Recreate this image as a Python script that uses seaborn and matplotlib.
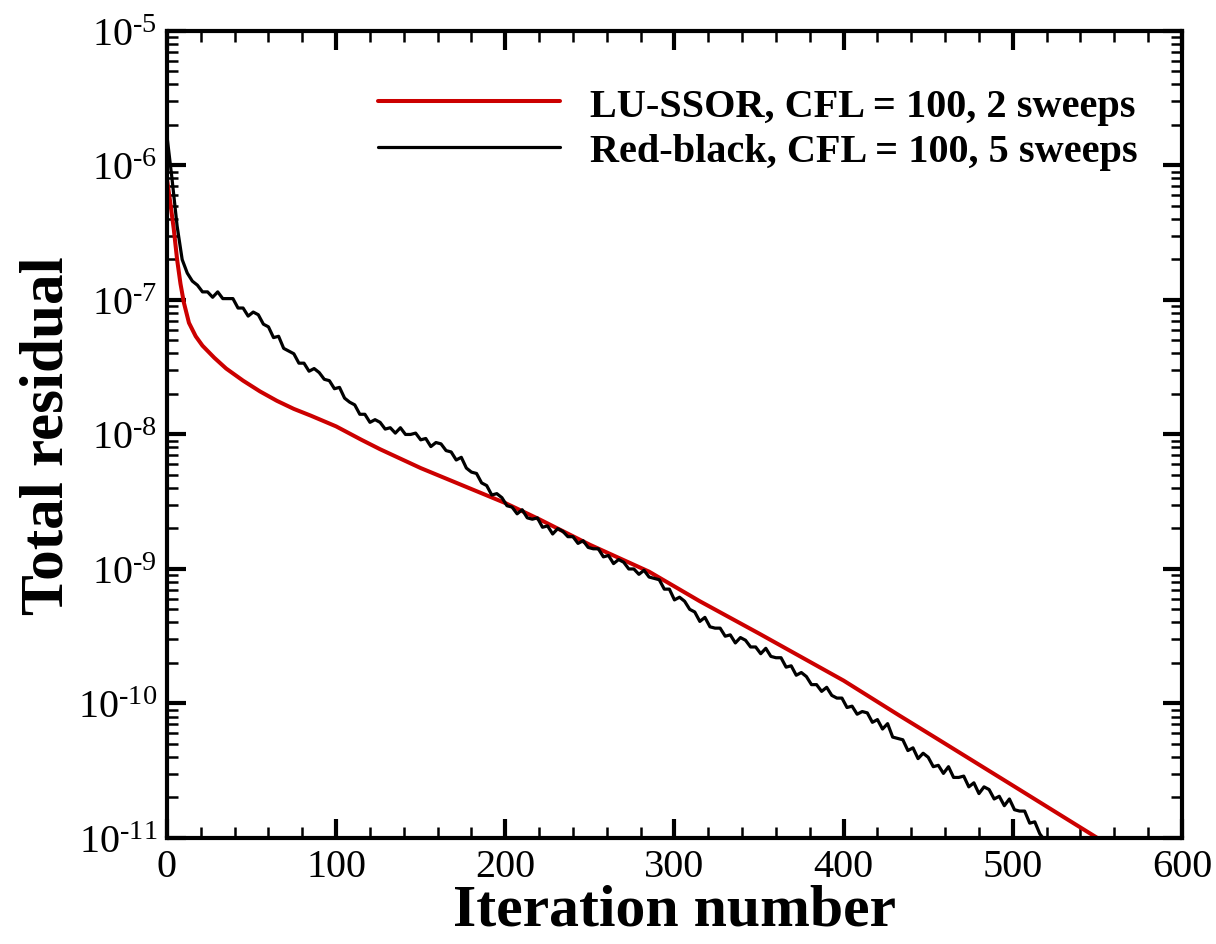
import numpy as np
import pandas as pd
import matplotlib
matplotlib.use("Agg")
import matplotlib.pyplot as plt
import seaborn as sns
from matplotlib.ticker import MultipleLocator, FixedLocator, NullFormatter, FuncFormatter

# LU-SSOR, CFL = 100, 2 sweeps  (log10 of total residual)
lu_iter = [0, 2, 4, 6, 8, 10, 13, 17, 21, 28, 35, 45, 55, 65, 75, 85, 100, 115,
           126, 150, 175, 200, 220, 250, 285, 315, 350, 400, 433, 455, 500, 550]
lu_log10 = [-6.10, -6.28, -6.47, -6.70, -6.88, -7.02, -7.17, -7.27, -7.34, -7.43,
            -7.51, -7.60, -7.68, -7.75, -7.81, -7.86, -7.94, -8.04, -8.11, -8.25,
            -8.38, -8.51, -8.63, -8.82, -9.02, -9.24, -9.48, -9.83, -10.09, -10.26,
            -10.61, -11.00]

# Red-black, CFL = 100, 5 sweeps, every 3rd iteration (log10 of total residual)
rb_iter = list(range(0, 520, 3))
rb_log10 = [
    -5.78, -6.10, -6.45, -6.70, -6.80, -6.86, -6.89, -6.94, -6.94, -6.98,
    -6.94, -6.99, -6.99, -6.99, -7.06, -7.06, -7.12, -7.09, -7.11, -7.18,
    -7.20, -7.28, -7.27, -7.36, -7.38, -7.40, -7.47, -7.47, -7.53, -7.51,
    -7.54, -7.59, -7.60, -7.66, -7.65, -7.73, -7.76, -7.78, -7.85, -7.85,
    -7.91, -7.89, -7.91, -7.96, -7.95, -7.99, -7.95, -8.00, -8.00, -7.99,
    -8.04, -8.03, -8.09, -8.06, -8.07, -8.12, -8.13, -8.19, -8.17, -8.25,
    -8.28, -8.29, -8.36, -8.38, -8.45, -8.44, -8.47, -8.53, -8.54, -8.59,
    -8.56, -8.62, -8.63, -8.62, -8.69, -8.68, -8.74, -8.70, -8.72, -8.76,
    -8.76, -8.81, -8.79, -8.84, -8.85, -8.85, -8.91, -8.90, -8.96, -8.93,
    -8.95, -9.00, -9.00, -9.04, -9.01, -9.06, -9.07, -9.08, -9.15, -9.15,
    -9.23, -9.21, -9.24, -9.30, -9.32, -9.39, -9.36, -9.43, -9.44, -9.44,
    -9.50, -9.49, -9.55, -9.51, -9.53, -9.58, -9.58, -9.63, -9.59, -9.65,
    -9.66, -9.66, -9.73, -9.72, -9.79, -9.77, -9.80, -9.86, -9.86, -9.91,
    -9.88, -9.94, -9.96, -9.96, -10.03, -10.02, -10.08, -10.06, -10.07, -10.14,
    -10.12, -10.19, -10.15, -10.25, -10.26, -10.27, -10.35, -10.33, -10.41, -10.37,
    -10.40, -10.47, -10.46, -10.52, -10.47, -10.55, -10.55, -10.54, -10.62, -10.59,
    -10.67, -10.62, -10.64, -10.71, -10.69, -10.76, -10.71, -10.79, -10.80, -10.80,
    -10.89, -10.88, -10.97, -11.02,
]

labels = ["LU-SSOR, CFL = 100, 2 sweeps", "Red-black, CFL = 100, 5 sweeps"]
y_decades = [-11, -10, -9, -8, -7, -6, -5]

lu = pd.DataFrame({"iteration": lu_iter, "residual": 10.0 ** np.array(lu_log10)})
rb = pd.DataFrame({"iteration": rb_iter, "residual": 10.0 ** np.array(rb_log10)})

sns.set_style("ticks")
plt.rcParams["font.family"] = ["Liberation Serif", "DejaVu Serif"]
plt.rcParams["mathtext.fontset"] = "custom"
plt.rcParams["mathtext.rm"] = "Liberation Serif"
plt.rcParams["mathtext.it"] = "Liberation Serif:italic"
plt.rcParams["mathtext.bf"] = "Liberation Serif:bold"
for key in ["text.color", "axes.labelcolor", "axes.edgecolor", "xtick.color", "ytick.color"]:
    plt.rcParams[key] = "black"

fig = plt.figure(figsize=(12.16, 9.45), dpi=100)
ax = fig.add_axes([0.1373, 0.1122, 0.8347, 0.8540])

sns.lineplot(data=lu, x="iteration", y="residual", ax=ax, color="#cc0000",
             lw=2.9, label=labels[0], estimator=None)
sns.lineplot(data=rb, x="iteration", y="residual", ax=ax, color="black",
             lw=2.3, label=labels[1], estimator=None)

ax.set_yscale("log")
ax.set_xlim(0, 600)
ax.set_ylim(1e-11, 1e-5)
ax.xaxis.set_major_locator(MultipleLocator(100))
ax.xaxis.set_minor_locator(MultipleLocator(20))
ax.yaxis.set_major_locator(FixedLocator([10.0 ** d for d in y_decades]))
ax.yaxis.set_minor_locator(FixedLocator(
    [m * 10.0 ** d for d in y_decades[:-1] for m in range(2, 10)]))
ax.yaxis.set_minor_formatter(NullFormatter())
ax.yaxis.set_major_formatter(FuncFormatter(
    lambda v, p: r"$\mathdefault{10^{\text{-}%d}}$" % round(-np.log10(v))))

for s in ax.spines.values():
    s.set_linewidth(3)
ax.tick_params(which="both", direction="in", top=True, right=True,
               labelsize=29, pad=7)
ax.tick_params(which="major", length=14, width=3)
ax.tick_params(which="minor", length=8, width=1.8)

ax.set_xlabel("Iteration number", fontsize=43, fontweight="bold", labelpad=-1)
ax.set_ylabel("Total residual", fontsize=44, fontweight="bold", labelpad=2)

ax.legend(loc="upper right", frameon=False, handlelength=4.5, handletextpad=0.75,
          labelspacing=0.2, prop={"size": 29, "weight": "bold"},
          bbox_to_anchor=(0.992, 0.975))

fig.savefig("out.png", dpi=100)
